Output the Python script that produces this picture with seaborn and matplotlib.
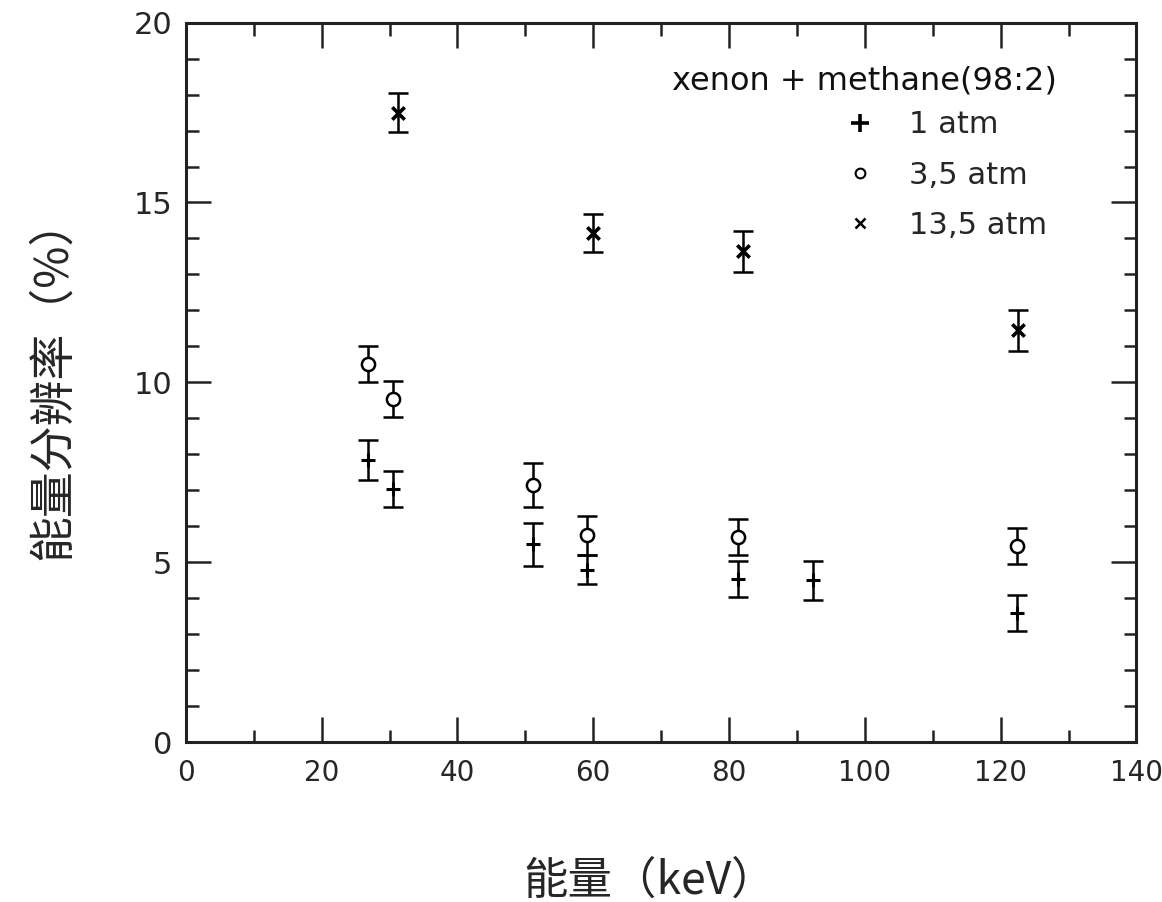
import numpy as np
import pandas as pd
import matplotlib
matplotlib.use("Agg")
import matplotlib.pyplot as plt
import seaborn as sns
from matplotlib.lines import Line2D
from matplotlib.ticker import MultipleLocator

sns.set_theme(style="ticks")
plt.rcParams['font.family'] = ['DejaVu Sans', 'Noto Sans CJK SC']

# 1 atm
x_1atm = [26.8, 30.5, 51.1, 59.1, 81.3, 92.3, 122.4]
y_1atm = [7.85, 7.05, 5.5, 4.8, 4.55, 4.5, 3.6]
e_1atm = [0.55, 0.5, 0.6, 0.4, 0.5, 0.55, 0.5]

# 3.5 atm
x_35atm = [26.8, 30.5, 51.1, 59.1, 81.3, 122.4]
y_35atm = [10.5, 9.55, 7.15, 5.75, 5.7, 5.45]
e_35atm = [0.5, 0.5, 0.6, 0.55, 0.5, 0.5]

# 13.5 atm
x_135atm = [31.2, 59.9, 82.0, 122.5]
y_135atm = [17.5, 14.15, 13.65, 11.45]
e_135atm = [0.53, 0.52, 0.57, 0.57]

labels = ["1 atm", "3,5 atm", "13,5 atm"]

df = pd.concat([
    pd.DataFrame({"E": x_1atm, "R": y_1atm, "err": e_1atm, "p": labels[0]}),
    pd.DataFrame({"E": x_35atm, "R": y_35atm, "err": e_35atm, "p": labels[1]}),
    pd.DataFrame({"E": x_135atm, "R": y_135atm, "err": e_135atm, "p": labels[2]}),
], ignore_index=True)

fig = plt.figure(figsize=(11.62, 9.02), dpi=100)
ax = fig.add_axes([0.160, 0.177, 0.818, 0.798])

# error bars
for p in labels:
    d = df[df["p"] == p]
    ax.errorbar(d["E"], d["R"], yerr=d["err"], fmt="none", ecolor="black",
                elinewidth=1.8, capsize=7, capthick=1.8, zorder=2)

# markers
sns.scatterplot(data=df[df["p"] == labels[0]], x="E", y="R", marker="+", s=110,
                color="black", linewidth=2.2, ax=ax, zorder=3, legend=False)
sns.scatterplot(data=df[df["p"] == labels[1]], x="E", y="R", marker="o", s=90,
                facecolor="white", edgecolor="black", linewidth=1.8, ax=ax,
                zorder=3, legend=False)
sns.scatterplot(data=df[df["p"] == labels[2]], x="E", y="R", marker="x", s=80,
                color="black", linewidth=2.6, ax=ax, zorder=3, legend=False)

ax.set_xlim(0, 140)
ax.set_ylim(0, 20)
ax.xaxis.set_major_locator(MultipleLocator(20))
ax.xaxis.set_minor_locator(MultipleLocator(10))
ax.yaxis.set_major_locator(MultipleLocator(5))
ax.yaxis.set_minor_locator(MultipleLocator(1))

for s in ax.spines.values():
    s.set_visible(True)
    s.set_linewidth(2.2)
    s.set_color("#222222")

ax.tick_params(which="both", direction="in", top=True, right=True,
               color="#222222", width=1.8)
ax.tick_params(which="major", length=18)
ax.tick_params(which="minor", length=9)
ax.tick_params(axis="x", which="major", labelsize=20, pad=12)
ax.tick_params(axis="y", which="major", labelsize=22, pad=10)

ax.set_xlabel("能量（keV）", fontsize=32, family=['Noto Sans CJK SC', 'DejaVu Sans'])
ax.set_ylabel("能量分辨率（%）", fontsize=33, family=['Noto Sans CJK SC', 'DejaVu Sans'])
ax.xaxis.set_label_coords(0.488, -0.16)
ax.yaxis.set_label_coords(-0.115, 0.505)

# legend
ax.text(0.511, 0.919, "xenon + methane(98:2)", transform=ax.transAxes,
        fontsize=23, va="center", ha="left", color="#111111")
handles = [
    Line2D([], [], ls="none", marker="+", ms=13, mew=2.6, color="black"),
    Line2D([], [], ls="none", marker="o", ms=7, mew=1.5, mfc="white", color="black"),
    Line2D([], [], ls="none", marker="x", ms=7, mew=1.8, color="black"),
]
ax.legend(handles, labels, loc="upper left", bbox_to_anchor=(0.69, 0.878),
          frameon=False, fontsize=22, handlelength=1.2, handletextpad=1.0,
          labelspacing=0.7, borderpad=0, borderaxespad=0)

fig.savefig("out.png", dpi=100, facecolor="white")
